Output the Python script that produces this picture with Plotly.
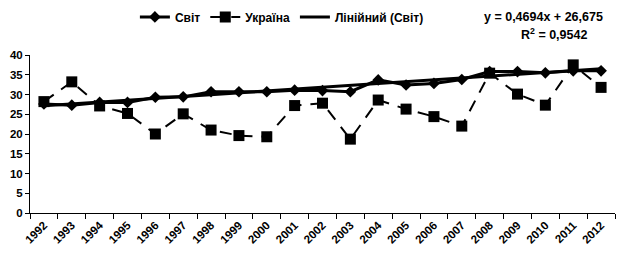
import plotly.graph_objects as go

years = [str(y) for y in range(1992, 2013)]
world = [27.6, 27.3, 28.0, 28.0, 29.3, 29.4, 30.7, 30.7, 30.7, 31.1, 31.0,
         30.7, 33.7, 32.4, 32.8, 33.8, 35.8, 35.8, 35.5, 36.0, 36.0]
ukraine = [28.2, 33.2, 27.1, 25.2, 20.0, 25.1, 21.0, 19.6, 19.3, 27.2, 27.8,
           18.7, 28.6, 26.3, 24.4, 22.0, 35.4, 30.1, 27.3, 37.5, 31.8]
slope, intercept = 0.4694, 26.675
trend = [slope * (i + 1) + intercept for i in range(len(years))]
y_ticks = [0, 5, 10, 15, 20, 25, 30, 35, 40]

FONT = "Liberation Sans"

fig = go.Figure()
fig.add_trace(go.Scatter(
    x=years, y=world, name="Світ", mode="lines+markers",
    line=dict(color="black", width=3),
    marker=dict(symbol="diamond", size=9, color="black")))
fig.add_trace(go.Scatter(
    x=years, y=ukraine, name="Україна", mode="lines+markers",
    line=dict(color="black", width=2, dash="12px,9px"),
    marker=dict(symbol="square", size=11, color="black")))
fig.add_trace(go.Scatter(
    x=years, y=trend, name="Лінійний (Світ)", mode="lines",
    line=dict(color="black", width=3)))

# page body has an 8px default margin: size & margins compensate for it
fig.update_layout(
    width=619, height=256,
    margin=dict(l=22, r=12, t=47, b=51, autoexpand=False),
    paper_bgcolor="white", plot_bgcolor="white",
    font=dict(family=FONT, size=11, color="black", weight="bold"),
    showlegend=True,
    legend=dict(orientation="h", xref="container", yref="container",
                x=0.205, y=0.965, xanchor="left", yanchor="middle",
                font=dict(size=12, weight="bold"), itemwidth=30,
                bgcolor="rgba(0,0,0,0)", tracegroupgap=0),
    xaxis=dict(type="category", tickson="boundaries", ticks="outside", ticklen=5,
               tickcolor="black", showline=True, linecolor="black", linewidth=1,
               showgrid=False, tickangle=-45, tickfont=dict(size=11.5, weight="bold"),
               range=[-0.5, len(years) - 0.5], automargin=False),
    yaxis=dict(range=[0, 40], tickvals=y_ticks, ticks="outside", ticklen=4,
               tickcolor="black", showline=True, linecolor="black", linewidth=1,
               showgrid=False, zeroline=False, tickfont=dict(size=11.5, weight="bold"),
               automargin=False),
)
fig.add_annotation(xref="paper", yref="paper", x=0.983, y=1.24, xanchor="right",
                   yanchor="middle", showarrow=False, align="right",
                   text="y = 0,4694x + 26,675", font=dict(size=12.5, weight="bold"))
fig.add_annotation(xref="paper", yref="paper", x=0.955, y=1.135, xanchor="right",
                   yanchor="middle", showarrow=False, align="right",
                   text="R<sup>2</sup> = 0,9542", font=dict(size=12.5, weight="bold"))

fig.write_html("out.html")
